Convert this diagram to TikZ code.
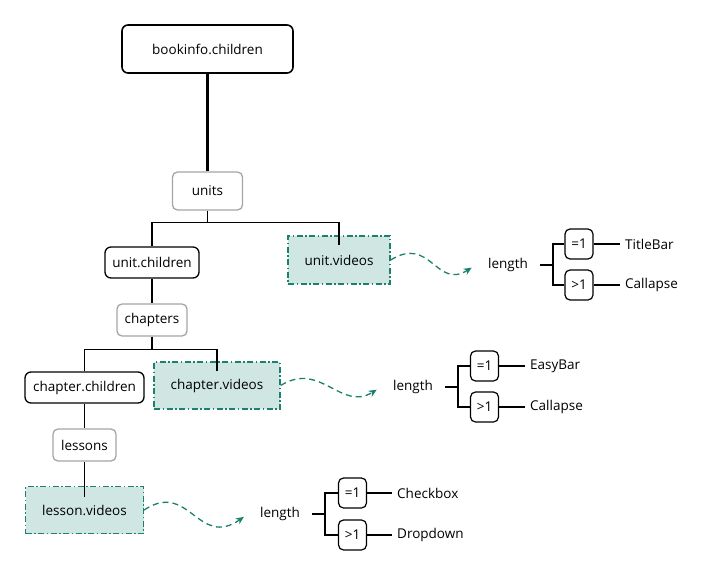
\documentclass[tikz,border=0pt]{standalone}
\usepackage{fontspec}
\setmainfont{Open Sans}
\usetikzlibrary{arrows.meta}
\definecolor{VideoFill}{RGB}{207, 230, 227}
\definecolor{VideoLine}{RGB}{28, 128, 108}
\definecolor{TopicGray}{RGB}{165, 165, 165}

\begin{document}
\begin{tikzpicture}[
        x=1pt, y=-1pt,
        every node/.style={font=\fontsize{13.5}{16}\selectfont},
        rootbox/.style={draw, line width=1.6pt, rounded corners=6pt,
                        minimum width=171, minimum height=48},
        groupbox/.style={draw=TopicGray, line width=1.3pt, rounded corners=5pt,
                         minimum height=32},
        childbox/.style={draw, line width=1.3pt, rounded corners=6pt,
                         minimum height=31},
        videobox/.style={draw=VideoLine, fill=VideoFill, line width=1.3pt,
                         dash pattern=on 6pt off 2.5pt on 1.5pt off 2.5pt,
                         minimum height=47},
        condbox/.style={draw, line width=1.2pt, rounded corners=5pt,
                        minimum width=28, minimum height=30, inner sep=0pt},
        lenlabel/.style={inner xsep=12pt},
        leaf/.style={anchor=west, inner xsep=5pt},
        link/.style={line width=1.2pt},
        rootlink/.style={line width=2.4pt},
        flow/.style={VideoLine, line width=1.3pt, dash pattern=on 6pt off 4pt,
                     -{Stealth[length=8pt, width=7pt]}, shorten >=5pt}
    ]
        \useasboundingbox (0,0) rectangle (709,575);

        \node[rootbox] (book) at (207.5,49) {bookinfo.children};
        \node[groupbox, minimum width=70, minimum height=38] (units) at (207.5,191) {units};
        \node[childbox, minimum width=94] (uchild) at (152,262.5) {unit.children};
        \node[videobox, minimum width=102, minimum height=48] (uvid) at (339,260) {unit.videos};
        \node[groupbox, minimum width=70] (chapters) at (152,320) {chapters};
        \node[childbox, minimum width=119] (cchild) at (84.5,387.5) {chapter.children};
        \node[videobox, minimum width=126] (cvid) at (217,385.5) {chapter.videos};
        \node[groupbox, minimum width=63] (lessons) at (84.5,445) {lessons};
        \node[videobox, minimum width=118] (lvid) at (84.5,510) {lesson.videos};

        \draw[rootlink] (book) -- (units);
        \draw[link] (units.south) -- ++(0,12) -| (uchild.north);
        \draw[link] (units.south) -- ++(0,12) -| ([yshift=-10pt]uvid.north);
        \draw[link] (uchild) -- (chapters);
        \draw[link] (chapters.south) -- ++(0,13) -| (cchild.north);
        \draw[link] (chapters.south) -- ++(0,13) -| ([yshift=-10pt]cvid.north);
        \draw[link] (cchild) -- (lessons);
        \draw[link] (lessons) -- ([yshift=-11pt]lvid.north);

        \node[lenlabel] (len1) at (508,265) {length};
        \node[condbox] (eq1) at (579,244) {=1};
        \node[condbox] (gt1) at (579,285) {>1};
        \node[leaf] (titlebar) at (620,244) {TitleBar};
        \node[leaf] (collapse1) at (620,285) {Callapse};

        \node[lenlabel] (len2) at (413,387) {length};
        \node[condbox] (eq2) at (484.5,366) {=1};
        \node[condbox] (gt2) at (484.5,407) {>1};
        \node[leaf] (easybar) at (525,366) {EasyBar};
        \node[leaf] (collapse2) at (525,407) {Callapse};

        \node[lenlabel] (len3) at (280,514) {length};
        \node[condbox] (eq3) at (352.5,493) {=1};
        \node[condbox] (gt3) at (352.5,535) {>1};
        \node[leaf] (checkbox) at (392,493) {Checkbox};
        \node[leaf] (dropdown) at (392,535) {Dropdown};

        \draw[link] (len1.east) -- ++(13,0) |- (eq1.west);
        \draw[link] (len1.east) -- ++(13,0) |- (gt1.west);
        \draw[link] (eq1) -- (titlebar);
        \draw[link] (gt1) -- (collapse1);
        \draw[link] (len2.east) -- ++(13,0) |- (eq2.west);
        \draw[link] (len2.east) -- ++(13,0) |- (gt2.west);
        \draw[link] (eq2) -- (easybar);
        \draw[link] (gt2) -- (collapse2);
        \draw[link] (len3.east) -- ++(13,0) |- (eq3.west);
        \draw[link] (len3.east) -- ++(13,0) |- (gt3.west);
        \draw[link] (eq3) -- (checkbox);
        \draw[link] (gt3) -- (dropdown);

        \draw[flow] (uvid.east) .. controls +(40,-25) and +(-40,25) .. (len1.west);
        \draw[flow] (cvid.east) .. controls +(40,-25) and +(-40,25) .. (len2.west);
        \draw[flow] (lvid.east) .. controls +(45,-30) and +(-50,35) .. (len3.west);
    \end{tikzpicture}
\end{document}
